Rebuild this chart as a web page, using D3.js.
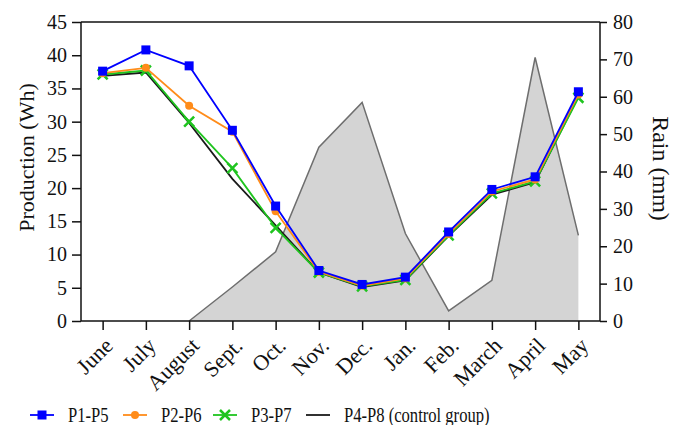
<!DOCTYPE html>
<html><head><meta charset="utf-8">
<script src="https://cdn.jsdelivr.net/npm/d3@7"></script>
<style>body{margin:0;background:#fff}</style>
</head><body><svg id="c" width="683" height="425"></svg>
<script>
const months = ["June","July","August","Sept.","Oct.","Nov.","Dec.","Jan.","Feb.","March","April","May"];
const rain = [null,null,0,9.1,18.5,46.5,58.5,23.4,2.7,10.9,70.5,22.9];
const p1p5 = [37.6,40.8,38.4,28.7,17.3,7.6,5.5,6.6,13.4,19.8,21.7,34.5];
const p2p6 = [37.3,38.1,32.4,28.5,16.5,7.4,5.3,6.4,13.1,19.5,21.3,34.1];
const p3p7 = [37.1,37.7,30.0,23.0,14.0,7.3,5.2,6.2,12.9,19.2,21.0,33.6];
const p4p8 = [36.9,37.4,29.8,21.4,14.4,7.3,5.1,6.1,12.8,19.0,20.9,33.8];
const leftTicks = [0,5,10,15,20,25,30,35,40,45];
const rightTicks = [0,10,20,30,40,50,60,70,80];
const seriesNames = ["P1-P5","P2-P6","P3-P7","P4-P8 (control group)"];

const FONT = "Liberation Serif, Tinos, Times New Roman, DejaVu Serif, serif";
const svg = d3.select("#c");
const L=81, R=600, T=22, B=321;
const x = d3.scalePoint().domain(months).range([L,R]).padding(0.5);
const y = d3.scaleLinear().domain([0,45]).range([B,T]);
const y2 = d3.scaleLinear().domain([0,80]).range([B,T]);

// rain area
const rd = months.map((m,i)=>({m,v:rain[i]}));
svg.append("path").datum(rd)
  .attr("fill","#d4d4d4")
  .attr("d", d3.area().defined(d=>d.v!==null).x(d=>x(d.m)).y0(B).y1(d=>y2(d.v)));
svg.append("path").datum(rd)
  .attr("fill","none").attr("stroke","#6e6e6e").attr("stroke-width",1.5)
  .attr("d", d3.line().defined(d=>d.v!==null).x(d=>x(d.m)).y(d=>y2(d.v)));

// frame top
svg.append("line").attr("x1",L).attr("x2",R).attr("y1",T).attr("y2",T).attr("stroke","#111").attr("stroke-width",1.5);

// axes
const gl = svg.append("g").attr("transform",`translate(${L},0)`)
  .call(d3.axisLeft(y).tickValues(leftTicks).tickSize(9).tickPadding(5));
const gr = svg.append("g").attr("transform",`translate(${R},0)`)
  .call(d3.axisRight(y2).tickValues(rightTicks).tickSize(7).tickPadding(6));
const gb = svg.append("g").attr("transform",`translate(0,${B})`)
  .call(d3.axisBottom(x).tickSize(9).tickSizeOuter(0));
[gl,gr,gb].forEach(g=>{
  g.attr("font-family",FONT).attr("font-size",20);
  g.select(".domain").attr("stroke","#111").attr("stroke-width",1.5);
  g.selectAll(".tick line").attr("stroke","#111").attr("stroke-width",1.5);
  g.selectAll("text").attr("font-family",FONT).attr("font-size",20).attr("fill","#111");
});
gl.select(".domain").attr("d",`M0,${T}V${B}`);
gr.select(".domain").attr("d",`M0,${T}V${B}`);
gb.select(".domain").attr("d",`M${L},0H${R}`);
gb.selectAll("text").attr("font-size",22).attr("text-anchor","end").attr("dy",0).attr("y",0)
  .attr("transform","translate(11,26) rotate(-45)");

// series lines
const defs = [
  {v:p4p8,c:"#1a1a1a",m:null},
  {v:p3p7,c:"#1fc41f",m:"x"},
  {v:p2p6,c:"#ff8c1a",m:"circle"},
  {v:p1p5,c:"#0000ff",m:"square"}
];
function marker(g,type,c,cx,cy){
  if(type==="square") g.append("rect").attr("x",cx-4.5).attr("y",cy-4.5).attr("width",9).attr("height",9).attr("fill",c);
  else if(type==="circle") g.append("circle").attr("cx",cx).attr("cy",cy).attr("r",4).attr("fill",c);
  else if(type==="x") g.append("path").attr("d",`M${cx-5},${cy-5}L${cx+5},${cy+5}M${cx-5},${cy+5}L${cx+5},${cy-5}`).attr("stroke",c).attr("stroke-width",2.5);
}
defs.forEach(s=>{
  svg.append("path").datum(s.v).attr("fill","none").attr("stroke",s.c).attr("stroke-width",1.8)
    .attr("d", d3.line().x((d,i)=>x(months[i])).y(d=>y(d)));
  if(s.m){
    const g=svg.append("g");
    s.v.forEach((d,i)=>marker(g,s.m,s.c,x(months[i]),y(d)));
  }
});

// axis titles
svg.append("text").attr("transform",`translate(34,${(T+B)/2-14}) rotate(-90)`).attr("text-anchor","middle")
  .attr("font-family",FONT).attr("font-size",22).attr("fill","#111").text("Production (Wh)");
svg.append("text").attr("transform",`translate(653,${(T+B)/2-3}) rotate(90)`).attr("text-anchor","middle")
  .attr("font-family",FONT).attr("font-size",24).attr("fill","#111").text("Rain (mm)");

// legend
const legX=[30,123,213,306];
const leg = [defs[3],defs[2],defs[1],defs[0]];
leg.forEach((s,i)=>{
  const lx=legX[i], ly=415;
  svg.append("line").attr("x1",lx).attr("x2",lx+24).attr("y1",ly).attr("y2",ly).attr("stroke",s.c).attr("stroke-width",1.8);
  if(s.m) marker(svg,s.m,s.c,lx+12,ly);
  svg.append("text").attr("transform",`translate(${lx+38},${ly+7}) scale(0.83,1)`)
    .attr("font-family",FONT).attr("font-size",20).attr("fill","#111").text(seriesNames[i]);
});
</script></body></html>
